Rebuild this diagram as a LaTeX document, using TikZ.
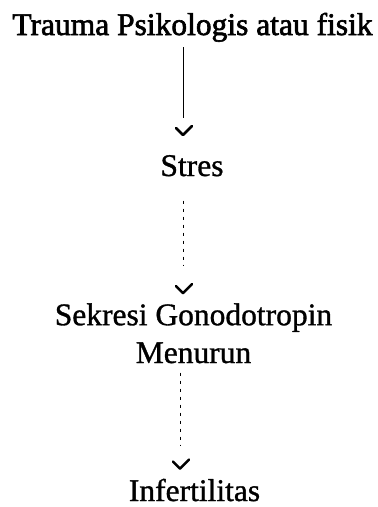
\documentclass[tikz,border=0pt]{standalone}
\usepackage{fontspec}
\setmainfont{Liberation Serif}
\newfontfamily\heavyserif[FakeBold=2]{Liberation Serif}
\newfontfamily\midserif[FakeBold=1]{Liberation Serif}
\usetikzlibrary{calc}
\tikzset{
  txt/.style={font=\fontsize{31.5}{37.8}\midserif, inner sep=0pt, anchor=base, align=center},
  headtxt/.style={txt, font=\fontsize{31.5}{37.8}\heavyserif},
  solidlink/.style={line width=0.8pt},
  dashlink/.style={line width=0.6pt, dash pattern=on 3pt off 5pt},
  vhead/.style={line width=2.6pt, line join=round, line cap=round},
  vtip/.pic={\draw[vhead] (-7,-7) -- (0,0) -- (9,-9);}
}
\begin{document}
\begin{tikzpicture}[x=1pt,y=-1pt]
\useasboundingbox (0,0) rectangle (378,507);
% columns carrying the connectors
\coordinate (axisA) at (183,0);
\coordinate (axisB) at (180,0);
% labels (a two-line node sits on the baseline of its last line)
\node[headtxt] (t) at (192.5,35) {Trauma Psikologis atau fisik};
\node[txt] (s) at (192,176) {Stres};
\node[txt] (g) at (193.5,363) {Sekresi Gonodotropin\\Menurun};
\node[txt] (i) at (194.5,501) {Infertilitas};
% connectors, each ending a little above a detached V-shaped head
\draw[solidlink, shorten <=5pt, shorten >=37pt] (t.south -| axisA) -- (s.north -| axisA);
\pic at ($(s.north -| axisA)+(0,-20)$) {vtip};
\draw[dashlink, shorten <=24pt, shorten >=38pt] (s.south -| axisA) -- (g.north -| axisA);
\pic at ($(g.north -| axisA)+(0,-10)$) {vtip};
\draw[dashlink, shorten <=9pt, shorten >=33pt] (g.south -| axisB) -- (i.north -| axisB);
\pic at ($(i.north -| axisB)+(0,-10)$) {vtip};
\end{tikzpicture}
\end{document}
